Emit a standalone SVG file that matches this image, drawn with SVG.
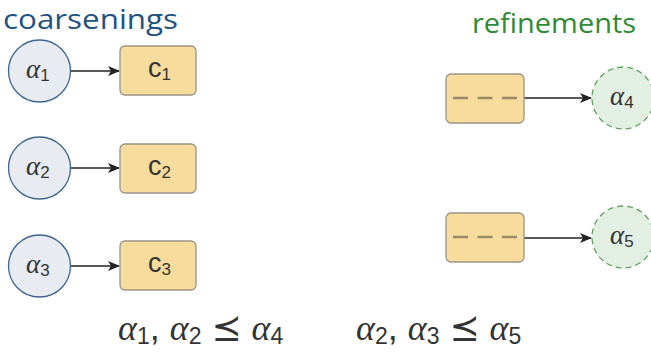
<svg xmlns="http://www.w3.org/2000/svg" width="651" height="353" viewBox="0 0 651 353">
<style>
.title{font-family:"Open Sans","Noto Sans",sans-serif;font-size:27px}
.cn{fill:#e8ebf1;stroke:#3d6590;stroke-width:1.3}
.rn{fill:#e3efe3;stroke:#5fa25f;stroke-width:1.3;stroke-dasharray:6 4}
.bx{fill:#f8dc9d;stroke:#9a9488;stroke-width:1.3}
.dash{stroke:#9b8a68;stroke-width:2.5;stroke-dasharray:15 9.5}
.m{font-family:"Liberation Serif","DejaVu Serif",serif;font-style:italic;fill:#333}
.s{font-family:"Liberation Sans","DejaVu Sans",sans-serif;font-style:normal;fill:#333}
.lbl{font-size:27px}
.sub{font-size:17px}
.edge{stroke:#222;stroke-width:1.4;fill:none;marker-end:url(#ah)}
.big{font-size:36px}
.bsub{font-size:23px}
</style>
<defs>
<marker id="ah" viewBox="0 0 12 10" refX="11" refY="5" markerWidth="12" markerHeight="10" markerUnits="userSpaceOnUse" orient="auto">
<path d="M0,0 L12,5 L0,10 L3,5 Z" fill="#222"/>
</marker>
</defs>
<text class="title" x="3" y="29" fill="#22527f" textLength="175" lengthAdjust="spacingAndGlyphs">coarsenings</text>
<text class="title" x="472" y="33" fill="#2f8a36" textLength="164" lengthAdjust="spacingAndGlyphs">refinements</text>
<g id="connectors">
<line class="edge" x1="71" y1="71" x2="119" y2="71"/>
<line class="edge" x1="71" y1="168" x2="119" y2="168"/>
<line class="edge" x1="71" y1="266" x2="119" y2="266"/>
<line class="edge" x1="524" y1="98" x2="591" y2="98"/>
<line class="edge" x1="524" y1="238" x2="591" y2="238"/>
</g>
<g id="a1"><circle class="cn" cx="39.5" cy="71" r="31"/><text class="m lbl" x="26" y="78">α<tspan class="s sub" dy="3">1</tspan></text></g>
<g id="a2"><circle class="cn" cx="39.5" cy="168" r="31"/><text class="m lbl" x="26" y="175">α<tspan class="s sub" dy="3">2</tspan></text></g>
<g id="a3"><circle class="cn" cx="39.5" cy="266" r="31"/><text class="m lbl" x="26" y="273">α<tspan class="s sub" dy="3">3</tspan></text></g>
<g id="c1"><rect class="bx" x="120" y="46" width="76" height="49" rx="5"/><text class="s lbl" x="148" y="77" font-style="italic" font-size="24">c<tspan class="sub" font-style="normal" dy="3">1</tspan></text></g>
<g id="c2"><rect class="bx" x="120" y="144" width="76" height="49" rx="5"/><text class="s lbl" x="148" y="175" font-style="italic" font-size="24">c<tspan class="sub" font-style="normal" dy="3">2</tspan></text></g>
<g id="c3"><rect class="bx" x="120" y="241" width="76" height="49" rx="5"/><text class="s lbl" x="148" y="272" font-style="italic" font-size="24">c<tspan class="sub" font-style="normal" dy="3">3</tspan></text></g>
<g id="r4"><rect class="bx" x="446" y="74" width="78" height="49" rx="5"/><line class="dash" x1="453" y1="98" x2="517" y2="98"/></g>
<g id="r5"><rect class="bx" x="446" y="213" width="78" height="49" rx="5"/><line class="dash" x1="453" y1="237" x2="517" y2="237"/></g>
<g id="a4"><circle class="rn" cx="623" cy="98" r="31"/><text class="m lbl" x="610" y="105">α<tspan class="s sub" dy="3">4</tspan></text></g>
<g id="a5"><circle class="rn" cx="623" cy="237" r="31"/><text class="m lbl" x="610" y="244">α<tspan class="s sub" dy="3">5</tspan></text></g>
<text class="m big" x="118" y="340">α<tspan class="s bsub" dy="4">1</tspan><tspan class="s" dy="-4">, </tspan>α<tspan class="s bsub" dy="4">2</tspan><tspan class="s" dy="-4"> ⪯ </tspan>α<tspan class="s bsub" dy="4">4</tspan></text>
<text class="m big" x="356" y="340">α<tspan class="s bsub" dy="4">2</tspan><tspan class="s" dy="-4">, </tspan>α<tspan class="s bsub" dy="4">3</tspan><tspan class="s" dy="-4"> ⪯ </tspan>α<tspan class="s bsub" dy="4">5</tspan></text>
</svg>
